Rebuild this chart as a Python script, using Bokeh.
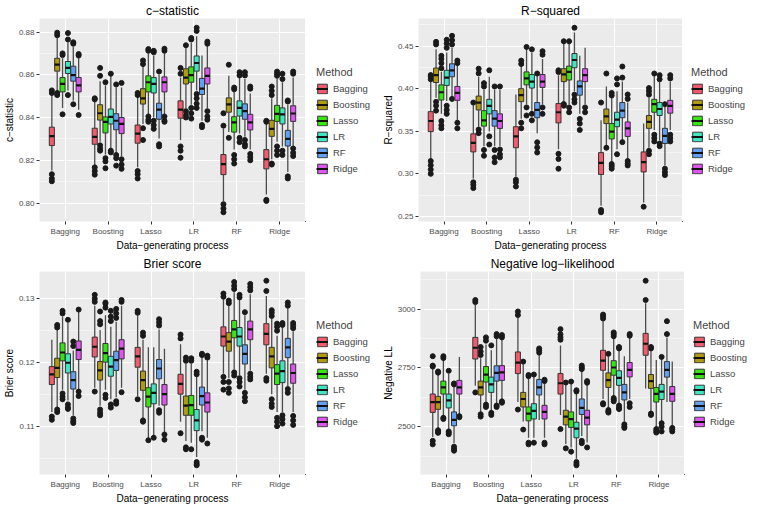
from bokeh.plotting import figure
from bokeh.models import (Range1d, FixedTicker, Legend, LegendItem,
                          PrintfTickFormatter, ColumnDataSource)
from bokeh.layouts import column, row
from bokeh.embed import file_html
from bokeh.resources import INLINE

DGPS = ["Bagging", "Boosting", "Lasso", "LR", "RF", "Ridge"]
METHODS = ["Bagging", "Boosting", "Lasso", "LR", "RF", "Ridge"]
COLORS = ["#F25A6E", "#B09A10", "#36E612", "#40E6C2", "#62A0F2", "#DE55F0"]
X_TITLE = "Data\u2212generating process"

# ---------------- c-statistic (rows = DGP, cols = method) ----------------
CSTAT_LOWER = [
    [0.8152, 0.8527, 0.8445, 0.8527, 0.8480, 0.8437],
    [0.8175, 0.8287, 0.8227, 0.8250, 0.8235, 0.8220],
    [0.8167, 0.8370, 0.8415, 0.8400, 0.8302, 0.8415],
    [0.8295, 0.8445, 0.8460, 0.8527, 0.8385, 0.8445],
    [0.8010, 0.8332, 0.8250, 0.8325, 0.8310, 0.8250],
    [0.8040, 0.8205, 0.8287, 0.8265, 0.8145, 0.8265],
]
CSTAT_Q1 = [
    [0.8269, 0.8617, 0.8520, 0.8606, 0.8570, 0.8520],
    [0.8275, 0.8388, 0.8328, 0.8370, 0.8343, 0.8325],
    [0.8280, 0.8463, 0.8520, 0.8515, 0.8392, 0.8520],
    [0.8397, 0.8557, 0.8565, 0.8617, 0.8508, 0.8557],
    [0.8133, 0.8425, 0.8332, 0.8407, 0.8392, 0.8342],
    [0.8160, 0.8312, 0.8382, 0.8370, 0.8267, 0.8382],
]
CSTAT_MEDIAN = [
    [0.8313, 0.8647, 0.8557, 0.8632, 0.8598, 0.8550],
    [0.8310, 0.8420, 0.8380, 0.8403, 0.8385, 0.8370],
    [0.8325, 0.8490, 0.8565, 0.8557, 0.8437, 0.8565],
    [0.8437, 0.8587, 0.8598, 0.8655, 0.8535, 0.8595],
    [0.8182, 0.8462, 0.8377, 0.8445, 0.8430, 0.8377],
    [0.8205, 0.8347, 0.8417, 0.8415, 0.8300, 0.8419],
]
CSTAT_Q3 = [
    [0.8355, 0.8677, 0.8587, 0.8662, 0.8640, 0.8587],
    [0.8350, 0.8460, 0.8403, 0.8440, 0.8418, 0.8400],
    [0.8365, 0.8535, 0.8595, 0.8587, 0.8467, 0.8590],
    [0.8478, 0.8628, 0.8637, 0.8688, 0.8583, 0.8632],
    [0.8227, 0.8492, 0.8404, 0.8478, 0.8464, 0.8415],
    [0.8250, 0.8387, 0.8457, 0.8445, 0.8340, 0.8455],
]
CSTAT_UPPER = [
    [0.8505, 0.8775, 0.8677, 0.8752, 0.8730, 0.8685],
    [0.8475, 0.8570, 0.8550, 0.8595, 0.8542, 0.8540],
    [0.8497, 0.8640, 0.8700, 0.8690, 0.8600, 0.8700],
    [0.8587, 0.8725, 0.8750, 0.8780, 0.8690, 0.8737],
    [0.8347, 0.8595, 0.8520, 0.8587, 0.8580, 0.8512],
    [0.8370, 0.8490, 0.8580, 0.8565, 0.8460, 0.8587],
]
CSTAT_OUTLIERS = [
    [[0.8515, 0.8527, 0.8135, 0.8115, 0.8102], [0.8785, 0.8797, 0.8515, 0.8505],
     [0.8692, 0.8700, 0.8415], [0.8765, 0.8795, 0.8505], [0.8745, 0.8752, 0.8462],
     [0.8690, 0.8697, 0.8412]],
    [[0.8485, 0.8490, 0.8167, 0.8150, 0.8133], [0.8595, 0.8632, 0.8270, 0.8255, 0.8245],
     [0.8565, 0.8210, 0.8195, 0.8163], [0.8605, 0.8245, 0.8237],
     [0.8555, 0.8225, 0.8210, 0.8175], [0.8562, 0.8205, 0.8180, 0.8160]],
    [[0.8505, 0.8515, 0.8150, 0.8135, 0.8115], [0.8650, 0.8667, 0.8350, 0.8295],
     [0.8712, 0.8720, 0.8405, 0.8390, 0.8380], [0.8705, 0.8712, 0.8385, 0.8365, 0.8347],
     [0.8615, 0.8275, 0.8265], [0.8712, 0.8722, 0.8405, 0.8385, 0.8380]],
    [[0.8605, 0.8632, 0.8265, 0.8245, 0.8212], [0.8738, 0.8430, 0.8410, 0.8400],
     [0.8765, 0.8772, 0.8445, 0.8420, 0.8395],
     [0.8805, 0.8820, 0.8510, 0.8490, 0.8465, 0.8445], [0.8365, 0.8355],
     [0.8745, 0.8755, 0.8430, 0.8405, 0.8390]],
    [[0.8362, 0.8420, 0.7995, 0.7975, 0.7957], [0.8647, 0.8305],
     [0.8532, 0.8540, 0.8225, 0.8205, 0.8185], [0.8597, 0.8612, 0.8305, 0.8285],
     [0.8597, 0.8612, 0.8295, 0.8275, 0.8265], [0.8535, 0.8545, 0.8230, 0.8215, 0.8200]],
    [[0.8380, 0.8385, 0.8015, 0.8010], [0.8505, 0.8525, 0.8545, 0.8185, 0.8180],
     [0.8595, 0.8605, 0.8615, 0.8265, 0.8245, 0.8225], [0.8580, 0.8605, 0.8245, 0.8225],
     [0.8475, 0.8480, 0.8125, 0.8115], [0.8605, 0.8615, 0.8255, 0.8235, 0.8220]],
]
CSTAT_TICKS = [0.80, 0.82, 0.84, 0.86, 0.88]
CSTAT_MINOR = [0.79, 0.81, 0.83, 0.85, 0.87]

# ---------------- R-squared ----------------
R2_LOWER = [
    [0.3174, 0.3894, 0.3704, 0.3856, 0.3913, 0.3628],
    [0.2946, 0.3552, 0.3325, 0.3496, 0.3325, 0.3325],
    [0.2965, 0.3647, 0.3818, 0.3742, 0.3477, 0.3818],
    [0.3287, 0.3856, 0.3818, 0.3969, 0.3704, 0.3818],
    [0.2624, 0.3325, 0.3136, 0.3287, 0.3390, 0.3174],
    [0.2662, 0.3306, 0.3515, 0.3390, 0.3098, 0.3515],
]
R2_Q1 = [
    [0.3496, 0.4072, 0.3867, 0.4038, 0.4140, 0.3863],
    [0.3257, 0.3750, 0.3560, 0.3704, 0.3560, 0.3533],
    [0.3306, 0.3848, 0.4045, 0.4007, 0.3659, 0.4015],
    [0.3598, 0.4083, 0.4102, 0.4246, 0.3924, 0.4083],
    [0.2992, 0.3590, 0.3409, 0.3553, 0.3659, 0.3439],
    [0.3022, 0.3534, 0.3723, 0.3685, 0.3356, 0.3712],
]
R2_MEDIAN = [
    [0.3620, 0.4159, 0.3958, 0.4129, 0.4216, 0.3950],
    [0.3363, 0.3837, 0.3628, 0.3799, 0.3647, 0.3620],
    [0.3439, 0.3924, 0.4121, 0.4083, 0.3750, 0.4083],
    [0.3723, 0.4167, 0.4197, 0.4337, 0.4026, 0.4159],
    [0.3128, 0.3674, 0.3496, 0.3636, 0.3742, 0.3534],
    [0.3136, 0.3609, 0.3818, 0.3761, 0.3446, 0.3799],
]
R2_Q3 = [
    [0.3730, 0.4242, 0.4045, 0.4216, 0.4292, 0.4026],
    [0.3469, 0.3913, 0.3742, 0.3875, 0.3742, 0.3704],
    [0.3553, 0.4000, 0.4197, 0.4166, 0.3837, 0.4166],
    [0.3825, 0.4235, 0.4265, 0.4413, 0.4091, 0.4235],
    [0.3249, 0.3761, 0.3590, 0.3723, 0.3837, 0.3609],
    [0.3257, 0.3685, 0.3875, 0.3837, 0.3534, 0.3863],
]
R2_UPPER = [
    [0.4083, 0.4462, 0.4197, 0.4424, 0.4480, 0.4273],
    [0.3818, 0.4140, 0.3988, 0.4140, 0.3988, 0.3988],
    [0.3932, 0.4273, 0.4462, 0.4424, 0.4159, 0.4348],
    [0.4159, 0.4538, 0.4538, 0.4660, 0.4386, 0.4481],
    [0.3628, 0.4026, 0.3894, 0.3970, 0.4083, 0.3837],
    [0.3590, 0.3894, 0.4159, 0.4080, 0.3800, 0.4080],
]
R2_OUTLIERS = [
    [[0.4110, 0.4140, 0.4160, 0.3150, 0.3100, 0.3050, 0.3000],
     [0.4520, 0.4550, 0.3845, 0.3800, 0.3742],
     [0.4240, 0.4300, 0.4350, 0.4386, 0.3620, 0.3570, 0.3534],
     [0.4480, 0.4530, 0.4575, 0.3800, 0.3750, 0.3704],
     [0.4520, 0.4570, 0.4621, 0.3880], [0.4300, 0.4330, 0.3600, 0.3534]],
    [[0.3837, 0.2900, 0.2870, 0.2832], [0.4180, 0.4235, 0.3520, 0.3477],
     [0.4025, 0.4065, 0.3280, 0.3212], [0.4216, 0.3440, 0.3344],
     [0.4026, 0.3280, 0.3192, 0.3136], [0.4026, 0.3285, 0.3230, 0.3193]],
    [[0.2930, 0.2900, 0.2851], [0.4290, 0.4330, 0.3600, 0.3534],
     [0.4490, 0.3780, 0.3685], [0.4462, 0.3705, 0.3628],
     [0.4178, 0.3370, 0.3310, 0.3250], [0.4400, 0.4440, 0.3780, 0.3704]],
    [[0.4195, 0.4216, 0.3235, 0.3174, 0.3060], [0.4557, 0.3820, 0.3800],
     [0.4557, 0.3780, 0.3723], [0.4716, 0.3930, 0.3875, 0.3837],
     [0.3645, 0.3590, 0.3515], [0.3780, 0.3723]],
    [[0.3837, 0.2575, 0.2548], [0.4178, 0.3306],
     [0.3920, 0.3950, 0.3115, 0.3090, 0.3060], [0.4050, 0.4121, 0.3230],
     [0.4130, 0.4260, 0.3372], [0.3880, 0.3932, 0.3150, 0.3120, 0.3098]],
    [[0.2613], [0.3930, 0.3970, 0.4007, 0.3270, 0.3230],
     [0.4178, 0.3460, 0.3420, 0.3380], [0.4110, 0.4159, 0.3355, 0.3325],
     [0.3818, 0.3060, 0.3020, 0.2985], [0.4120, 0.4159, 0.3460, 0.3420, 0.3380]],
]
R2_TICKS = [0.25, 0.30, 0.35, 0.40, 0.45]
R2_MINOR = [0.275, 0.325, 0.375, 0.425, 0.475]

# ---------------- Brier score ----------------
BRIER_LOWER = [
    [0.1123, 0.1131, 0.1158, 0.1141, 0.1118, 0.1158],
    [0.1161, 0.1133, 0.1158, 0.1143, 0.1146, 0.1161],
    [0.1148, 0.1113, 0.1080, 0.1085, 0.1133, 0.1090],
    [0.1108, 0.1078, 0.1075, 0.1053, 0.1093, 0.1083],
    [0.1183, 0.1176, 0.1190, 0.1181, 0.1158, 0.1188],
    [0.1183, 0.1151, 0.1123, 0.1123, 0.1163, 0.1123],
]
BRIER_Q1 = [
    [0.1166, 0.1177, 0.1203, 0.1184, 0.1159, 0.1205],
    [0.1209, 0.1173, 0.1201, 0.1179, 0.1188, 0.1206],
    [0.1193, 0.1157, 0.1131, 0.1136, 0.1175, 0.1134],
    [0.1151, 0.1118, 0.1118, 0.1094, 0.1134, 0.1123],
    [0.1226, 0.1218, 0.1239, 0.1226, 0.1198, 0.1236],
    [0.1228, 0.1192, 0.1166, 0.1169, 0.1208, 0.1168],
]
BRIER_MEDIAN = [
    [0.1182, 0.1192, 0.1216, 0.1200, 0.1173, 0.1220],
    [0.1225, 0.1188, 0.1215, 0.1194, 0.1204, 0.1222],
    [0.1210, 0.1173, 0.1147, 0.1153, 0.1191, 0.1151],
    [0.1167, 0.1133, 0.1134, 0.1110, 0.1148, 0.1138],
    [0.1241, 0.1233, 0.1252, 0.1241, 0.1214, 0.1252],
    [0.1245, 0.1210, 0.1183, 0.1187, 0.1224, 0.1184],
]
BRIER_Q3 = [
    [0.1194, 0.1207, 0.1231, 0.1214, 0.1186, 0.1234],
    [0.1240, 0.1202, 0.1230, 0.1210, 0.1218, 0.1236],
    [0.1224, 0.1187, 0.1161, 0.1167, 0.1205, 0.1166],
    [0.1182, 0.1148, 0.1149, 0.1127, 0.1162, 0.1153],
    [0.1256, 0.1247, 0.1266, 0.1255, 0.1228, 0.1265],
    [0.1261, 0.1224, 0.1197, 0.1203, 0.1238, 0.1198],
]
BRIER_UPPER = [
    [0.1236, 0.1251, 0.1272, 0.1262, 0.1219, 0.1281],
    [0.1289, 0.1251, 0.1274, 0.1256, 0.1264, 0.1289],
    [0.1274, 0.1236, 0.1224, 0.1224, 0.1252, 0.1222],
    [0.1229, 0.1198, 0.1198, 0.1178, 0.1209, 0.1204],
    [0.1299, 0.1289, 0.1310, 0.1298, 0.1274, 0.1307],
    [0.1304, 0.1269, 0.1242, 0.1255, 0.1285, 0.1249],
]
BRIER_OUTLIERS = [
    [[0.1116, 0.1111], [0.1255, 0.1259, 0.1127, 0.1123],
     [0.1277, 0.1281, 0.1152, 0.1147, 0.1143], [0.1267, 0.1135, 0.1130, 0.1128],
     [0.1226, 0.1233, 0.1113, 0.1109, 0.1106], [0.1283, 0.1155, 0.1148]],
    [[0.1295, 0.1300, 0.1306, 0.1155], [0.1260, 0.1265, 0.1280, 0.1127, 0.1122, 0.1118],
     [0.1286, 0.1292, 0.1294, 0.1150, 0.1145], [0.1265, 0.1272, 0.1281, 0.1135, 0.1130],
     [0.1270, 0.1277, 0.1284, 0.1140, 0.1136], [0.1295, 0.1298, 0.1154]],
    [[0.1278, 0.1281, 0.1143], [0.1242, 0.1247, 0.1110, 0.1108], [0.1079],
     [0.1083], [0.1258, 0.1263, 0.1268, 0.1126, 0.1122], [0.1088, 0.1080]],
    [[0.1238, 0.1244, 0.1090], [0.1203, 0.1208, 0.1068, 0.1065],
     [0.1203, 0.1207, 0.1065], [0.1182, 0.1186, 0.1045, 0.1042, 0.1040],
     [0.1212, 0.1214, 0.1083, 0.1080], [0.1208, 0.1211, 0.1074]],
    [[0.1303, 0.1308, 0.1178, 0.1170, 0.1158], [0.1293, 0.1297, 0.1170, 0.1160, 0.1153],
     [0.1315, 0.1320, 0.1326, 0.1185, 0.1180], [0.1302, 0.1306, 0.1176, 0.1170, 0.1163],
     [0.1279, 0.1153, 0.1146, 0.1140], [0.1313, 0.1318, 0.1323, 0.1183, 0.1178, 0.1174]],
    [[0.1312, 0.1328, 0.1176, 0.1172], [0.1273, 0.1278, 0.1282, 0.1143, 0.1136, 0.1131],
     [0.1250, 0.1256, 0.1261, 0.1114, 0.1108, 0.1101],
     [0.1259, 0.1262, 0.1118, 0.1112, 0.1105], [0.1289, 0.1294, 0.1159, 0.1153],
     [0.1254, 0.1258, 0.1262, 0.1117, 0.1110, 0.1103]],
]
BRIER_TICKS = [0.11, 0.12, 0.13]
BRIER_MINOR = [0.105, 0.115, 0.125, 0.135]

# ---------------- Negative log-likelihood ----------------
NLL_LOWER = [
    [2456, 2494, 2543, 2488, 2430, 2550],
    [2674, 2563, 2605, 2563, 2598, 2618],
    [2605, 2522, 2453, 2453, 2529, 2453],
    [2550, 2426, 2412, 2364, 2460, 2433],
    [2618, 2577, 2632, 2598, 2522, 2618],
    [2663, 2563, 2494, 2522, 2605, 2501],
]
NLL_Q1 = [
    [2561, 2574, 2639, 2580, 2504, 2639],
    [2788, 2635, 2690, 2646, 2694, 2697],
    [2726, 2584, 2525, 2533, 2635, 2533],
    [2639, 2508, 2497, 2453, 2552, 2508],
    [2740, 2667, 2719, 2676, 2614, 2712],
    [2804, 2663, 2605, 2616, 2711, 2608],
]
NLL_MEDIAN = [
    [2605, 2605, 2667, 2612, 2529, 2667],
    [2836, 2667, 2722, 2680, 2729, 2731],
    [2773, 2618, 2556, 2567, 2667, 2563],
    [2685, 2543, 2532, 2492, 2580, 2539],
    [2781, 2698, 2752, 2708, 2646, 2742],
    [2853, 2694, 2640, 2649, 2742, 2640],
]
NLL_Q3 = [
    [2639, 2629, 2694, 2639, 2563, 2697],
    [2880, 2694, 2756, 2711, 2759, 2760],
    [2818, 2646, 2584, 2598, 2701, 2591],
    [2726, 2570, 2563, 2519, 2618, 2570],
    [2825, 2729, 2781, 2738, 2680, 2773],
    [2897, 2722, 2667, 2680, 2777, 2671],
]
NLL_UPPER = [
    [2748, 2725, 2785, 2725, 2674, 2797],
    [3018, 2791, 2850, 2825, 2873, 2873],
    [2963, 2770, 2705, 2715, 2805, 2690],
    [2846, 2680, 2686, 2645, 2738, 2680],
    [2949, 2800, 2880, 2828, 2800, 2880],
    [3025, 2828, 2784, 2790, 2880, 2777],
]
NLL_OUTLIERS = [
    [[2756, 2760, 2800, 2440, 2425], [2730, 2735, 2485, 2478, 2474],
     [2792, 2800, 2538, 2533], [2738, 2480, 2474, 2468],
     [2680, 2684, 2415, 2405, 2398], [2545, 2540]],
    [[3030, 3039, 2646], [2805, 2820, 2839, 2553, 2543], [2866, 2880, 2594, 2584],
     [2846, 2559, 2550], [2885, 2894, 2590, 2584], [2880, 2890, 2608, 2602]],
    [[2975, 2990, 2573], [2777, 2488], [2715, 2720, 2432, 2425], [2722, 2432],
     [2815, 2825, 2833], [2694, 2700, 2432, 2425]],
    [[2870, 2880, 2893, 2915, 2490], [2688, 2408], [2692, 2394],
     [2650, 2655, 2350, 2342, 2336], [2745, 2752, 2760, 2440, 2430],
     [2687, 2694, 2412]],
    [[2960, 2970, 2977, 2600, 2595], [2810, 2571, 2565, 2560],
     [2885, 2894, 2901, 2622, 2615, 2608], [2833, 2839, 2590, 2580, 2575],
     [2510, 2500, 2495], [2887, 2894, 2600, 2584]],
    [[3039, 3121], [2833, 2839, 2556, 2550], [2490, 2482, 2475],
     [2797, 2515, 2500, 2480], [2894, 2949], [2495, 2488, 2480]],
]
NLL_TICKS = [2500, 2750, 3000]
NLL_MINOR = [2375, 2625, 2875, 3125]

FONT = "Liberation Sans"
DODGE = 0.125
BOX_W = 0.118
FRAME_H = 203
TOP_B = 15
BOT_B = 27


def make_panel(title, ylab, lower, q1, med, q3, upper, outl, ticks, minor, fmt,
               frame_w, left):
    vals = [v for r in lower for v in r] + [v for r in upper for v in r]
    vals += [v for r in outl for cell in r for v in cell]
    lo, hi = min(vals), max(vals)
    pad = (hi - lo) * 0.05
    p = figure(frame_width=frame_w, frame_height=FRAME_H, output_backend="svg",
               toolbar_location=None,
               x_range=Range1d(0.4, 6.6), y_range=Range1d(lo - pad, hi + pad),
               min_border_left=left, min_border_top=TOP_B, min_border_bottom=BOT_B,
               min_border_right=0, background_fill_color="#EBEBEB",
               border_fill_color="white", outline_line_color=None)
    p.title.text = title
    p.title.align = "center"
    p.title.text_font = FONT
    p.title.text_font_size = "12px"
    p.title.text_font_style = "normal"
    p.title.text_color = "black"
    p.title.standoff = 2
    p.title.offset = 0

    p.xgrid.ticker = FixedTicker(ticks=[1, 2, 3, 4, 5, 6])
    p.xgrid.grid_line_color = "white"
    p.xgrid.grid_line_width = 1.1
    p.ygrid.ticker = FixedTicker(ticks=ticks, minor_ticks=minor)
    p.ygrid.grid_line_color = "white"
    p.ygrid.grid_line_width = 1.1
    p.ygrid.minor_grid_line_color = "white"
    p.ygrid.minor_grid_line_width = 0.5

    p.xaxis.ticker = FixedTicker(ticks=[1, 2, 3, 4, 5, 6])
    p.xaxis.major_label_overrides = {i + 1: d for i, d in enumerate(DGPS)}
    p.yaxis.ticker = FixedTicker(ticks=ticks)
    p.yaxis.formatter = PrintfTickFormatter(format=fmt)
    p.xaxis.axis_label = X_TITLE
    p.yaxis.axis_label = ylab
    for ax in (p.xaxis, p.yaxis):
        ax.axis_line_color = None
        ax.major_tick_line_color = "#333333"
        ax.major_tick_out = 3
        ax.major_tick_in = 0
        ax.minor_tick_line_color = None
        ax.major_label_text_font = FONT
        ax.major_label_text_font_size = "8px"
        ax.major_label_text_color = "#4D4D4D"
        ax.major_label_standoff = 2
        ax.axis_label_text_font = FONT
        ax.axis_label_text_font_size = "10px"
        ax.axis_label_text_font_style = "normal"
        ax.axis_label_text_color = "black"
        ax.axis_label_standoff = 1

    wx, wy0, wy1, ox, oy = [], [], [], [], []
    for i in range(6):
        for j in range(6):
            x = i + 1 + (j - 2.5) * DODGE
            wx += [x, x]
            wy0 += [lower[i][j], q3[i][j]]
            wy1 += [q1[i][j], upper[i][j]]
            for v in outl[i][j]:
                ox.append(x)
                oy.append(v)
    p.segment(x0=wx, y0=wy0, x1=wx, y1=wy1, line_color="#4D4D4D", line_width=1.3)
    p.scatter(ox, oy, size=5, fill_color="#1A1A1A", line_color="#1A1A1A")

    for j, m in enumerate(METHODS):
        xs = [i + 1 + (j - 2.5) * DODGE for i in range(6)]
        src = ColumnDataSource(dict(
            x=xs,
            x0=[x - BOX_W / 2 for x in xs],
            x1=[x + BOX_W / 2 for x in xs],
            q1=[q1[i][j] for i in range(6)],
            q3=[q3[i][j] for i in range(6)],
            med=[med[i][j] for i in range(6)],
        ))
        p.vbar(x="x", width=BOX_W, bottom="q1", top="q3", source=src,
               fill_color=COLORS[j], line_color="#333333", line_width=1)
        p.segment(x0="x0", x1="x1", y0="med", y1="med", source=src,
                  line_color="#111111", line_width=2.2)
    return p


def make_legend(width, margin):
    lf = figure(frame_width=width, frame_height=FRAME_H, output_backend="svg",
                toolbar_location=None, x_axis_location=None, y_axis_location=None,
                x_range=Range1d(0, 1), y_range=Range1d(0, 1),
                min_border_left=0, min_border_right=0, min_border_top=TOP_B,
                min_border_bottom=BOT_B, outline_line_color=None,
                background_fill_color="white", border_fill_color="white")
    lf.xgrid.visible = False
    lf.ygrid.visible = False
    items = []
    for j, m in enumerate(METHODS):
        # a single off-frame placeholder so that the legend draws its key
        src = ColumnDataSource(dict(x=[-5.0], q1=[-5.0], q3=[-4.0],
                                    x0=[-5.0], x1=[-4.0], med=[-4.5]))
        b = lf.vbar(x="x", width=0.1, bottom="q1", top="q3", source=src,
                    fill_color=COLORS[j], line_color="#333333", line_width=1)
        mr = lf.segment(x0="x0", x1="x1", y0="med", y1="med", source=src,
                        line_color="#111111", line_width=2.2)
        items.append(LegendItem(label=m, renderers=[b, mr]))
    legend = Legend(items=items, title="Method", location="center_left")
    legend.title_text_font = FONT
    legend.title_text_font_size = "11px"
    legend.title_text_font_style = "normal"
    legend.title_standoff = 5
    legend.label_text_font = FONT
    legend.label_text_font_size = "9.5px"
    legend.glyph_width = 12
    legend.glyph_height = 12
    legend.label_height = 12
    legend.label_standoff = 5
    legend.spacing = 4
    legend.padding = 4
    legend.margin = margin
    legend.background_fill_alpha = 0
    legend.border_line_color = None
    lf.add_layout(legend, "center")
    return lf


p1 = make_panel("c\u2212statistic", "c\u2212statistic", CSTAT_LOWER, CSTAT_Q1,
                CSTAT_MEDIAN, CSTAT_Q3, CSTAT_UPPER, CSTAT_OUTLIERS,
                CSTAT_TICKS, CSTAT_MINOR, "%.2f", 266, 32)
p2 = make_panel("R\u2212squared", "R\u2212squared", R2_LOWER, R2_Q1, R2_MEDIAN,
                R2_Q3, R2_UPPER, R2_OUTLIERS, R2_TICKS, R2_MINOR, "%.2f", 264, 38)
p3 = make_panel("Brier score", "Brier score", BRIER_LOWER, BRIER_Q1, BRIER_MEDIAN,
                BRIER_Q3, BRIER_UPPER, BRIER_OUTLIERS, BRIER_TICKS, BRIER_MINOR,
                "%.2f", 266, 32)
p4 = make_panel("Negative log\u2212likelihood", "Negative LL", NLL_LOWER, NLL_Q1,
                NLL_MEDIAN, NLL_Q3, NLL_UPPER, NLL_OUTLIERS, NLL_TICKS, NLL_MINOR,
                "%d", 264, 38)

layout = column(
    row(p1, make_legend(74, 11), p2, make_legend(70, 9)),
    row(p3, make_legend(74, 11), p4, make_legend(70, 9)),
)
open("out.html", "w").write(file_html(layout, INLINE))
